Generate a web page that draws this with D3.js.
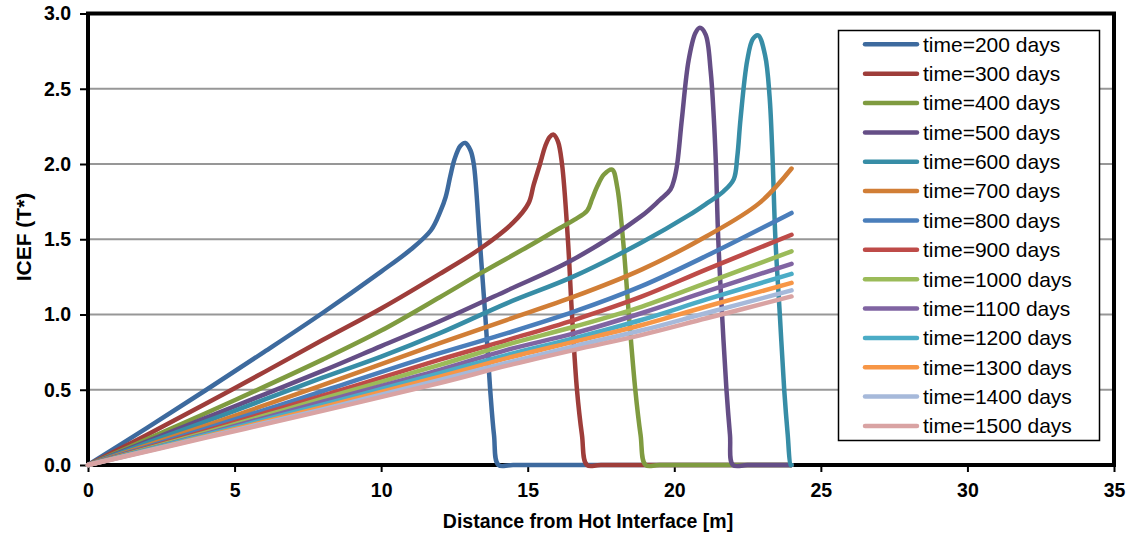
<!DOCTYPE html>
<html>
<head>
<meta charset="utf-8">
<script src="https://cdn.jsdelivr.net/npm/d3@7"></script>
<style>
  html, body { margin: 0; padding: 0; background: #fff; }
  svg { display: block; font-family: "Liberation Sans", Arial, sans-serif; }
</style>
</head>
<body>
<svg id="chart" width="1129" height="539"></svg>
<script>
// ICEF profiles, [distance (m), ICEF (T*)] pairs for each elapsed time
const t200 = [[0,0],[2,0.245],[4,0.495],[6,0.75],[8,1.01],[10,1.285],[11,1.43],[11.7,1.56],[12.02,1.685],[12.2,1.78],[12.36,1.92],[12.5,2.03],[12.7,2.12],[12.87,2.14],[13.05,2.09],[13.16,2.0],[13.36,1.5],[13.55,1.0],[13.72,0.5],[13.85,0.2],[14.0,0],[14.5,0],[24,0]];
const t300 = [[0,0],[2,0.2],[5,0.51],[8,0.83],[10,1.04],[12,1.27],[13.4,1.44],[14.5,1.61],[15.03,1.74],[15.2,1.86],[15.42,2.0],[15.6,2.12],[15.75,2.18],[15.88,2.195],[16.03,2.15],[16.17,2.0],[16.37,1.5],[16.51,1.0],[16.68,0.5],[16.85,0.2],[17.02,0],[17.5,0],[24,0]];
const t400 = [[0,0],[2,0.17],[5,0.43],[8,0.7],[10,0.893],[12,1.115],[13.4,1.275],[15,1.45],[16.1,1.575],[16.6,1.63],[17.03,1.69],[17.2,1.77],[17.37,1.85],[17.6,1.93],[17.88,1.963],[18.05,1.85],[18.25,1.5],[18.45,1.0],[18.67,0.5],[18.85,0.2],[19.02,0],[19.5,0],[24,0]];
const t500 = [[0,0],[2,0.155],[5,0.39],[8,0.625],[10,0.79],[12,0.955],[14.3,1.16],[16.5,1.36],[18.85,1.65],[19.5,1.76],[19.87,1.83],[20.0,1.9],[20.1,2.0],[20.26,2.3],[20.49,2.69],[20.72,2.87],[20.87,2.905],[21.07,2.86],[21.24,2.62],[21.35,2.3],[21.42,2.0],[21.5,1.5],[21.63,1.0],[21.78,0.5],[21.9,0.2],[22.0,0],[22.5,0],[24,0]];
const t600 = [[0,0],[2,0.145],[5,0.36],[8,0.58],[10,0.72],[12,0.876],[14.3,1.076],[16.57,1.253],[18.85,1.475],[20.5,1.66],[21.12,1.74],[21.69,1.82],[22.03,1.9],[22.15,2.05],[22.26,2.3],[22.49,2.69],[22.68,2.83],[22.86,2.855],[23.1,2.72],[23.25,2.45],[23.35,2.05],[23.45,1.5],[23.6,1.0],[23.75,0.5],[23.87,0.2],[23.97,0],[24,0]];
const t700 = [[0,0],[4,0.26],[8,0.53],[12,0.81],[14.3,0.965],[16.6,1.12],[18.9,1.3],[21.1,1.52],[22.9,1.74],[24,1.97]];
const t800 = [[0,0],[4,0.24],[8,0.49],[12,0.743],[14.3,0.876],[16.6,1.02],[18.9,1.19],[21.1,1.39],[24,1.675]];
const t900 = [[0,0],[4,0.225],[8,0.46],[12,0.7],[14.3,0.83],[16.6,0.965],[18.9,1.12],[21.1,1.3],[24,1.53]];
const t1000 = [[0,0],[4,0.215],[8,0.44],[12,0.665],[14.3,0.8],[16.6,0.92],[18.9,1.053],[21.1,1.21],[24,1.42]];
const t1100 = [[0,0],[4,0.205],[8,0.42],[12,0.632],[14.3,0.765],[16.6,0.876],[18.9,1.01],[21.1,1.153],[24,1.337]];
const t1200 = [[0,0],[4,0.2],[8,0.4],[12,0.61],[14.3,0.732],[16.6,0.843],[18.9,0.965],[21.1,1.1],[24,1.27]];
const t1300 = [[0,0],[4,0.19],[8,0.385],[12,0.587],[14.3,0.71],[16.6,0.82],[18.9,0.93],[21.1,1.053],[24,1.21]];
const t1400 = [[0,0],[4,0.185],[8,0.37],[12,0.565],[14.3,0.68],[16.6,0.79],[18.9,0.895],[21.1,1.01],[24,1.16]];
const t1500 = [[0,0],[4,0.18],[8,0.36],[12,0.545],[14.3,0.66],[16.6,0.765],[18.9,0.865],[21.1,0.975],[24,1.12]];

const seriesNames = ["time=200 days","time=300 days","time=400 days","time=500 days","time=600 days","time=700 days","time=800 days","time=900 days","time=1000 days","time=1100 days","time=1200 days","time=1300 days","time=1400 days","time=1500 days"];
const seriesData = [t200,t300,t400,t500,t600,t700,t800,t900,t1000,t1100,t1200,t1300,t1400,t1500];
const seriesColors = ["#3D6A9E","#9E3D3A","#7F9B40","#654E86","#378DA6","#D17E36","#4A7EBB","#BE4B48","#9BBB59","#8064A2","#4BACC6","#F79646","#A6B9DA","#D9A3A3"];

const xTicks = [0,5,10,15,20,25,30,35];
const yTicks = [0,0.5,1.0,1.5,2.0,2.5,3.0];
const xTitle = "Distance from Hot Interface [m]";
const yTitle = "ICEF (T*)";

const svg = d3.select("#chart");
const plotLeft = 88, plotRight = 1114, plotTop = 13.5, plotBottom = 465;

const x = d3.scaleLinear().domain([0, 35]).range([plotLeft, plotRight]);
const y = d3.scaleLinear().domain([0, 3]).range([plotBottom, plotTop]);

// horizontal gridlines
svg.append("g").selectAll("line").data(yTicks.filter(v => v > 0 && v < 3)).join("line")
  .attr("x1", plotLeft).attr("x2", plotRight)
  .attr("y1", d => y(d)).attr("y2", d => y(d))
  .attr("stroke", "#979797").attr("stroke-width", 1.8);

// axes
const yAxis = svg.append("g").attr("transform", `translate(${plotLeft},0)`)
  .call(d3.axisLeft(y).tickValues(yTicks).tickFormat(d3.format(".1f")).tickSize(8).tickPadding(9));
const xAxis = svg.append("g").attr("transform", `translate(0,${plotBottom})`)
  .call(d3.axisBottom(x).tickValues(xTicks).tickFormat(d3.format("d")).tickSize(7).tickPadding(11));
[yAxis, xAxis].forEach(g => {
  g.select(".domain").remove();
  g.selectAll(".tick line").attr("stroke", "#000").attr("stroke-width", 2);
  g.selectAll(".tick text").attr("fill", "#000").attr("font-size", 19.5)
    .attr("font-weight", "bold").attr("font-family", "'Liberation Sans', Arial, sans-serif");
});

// plot-area frame
svg.append("rect")
  .attr("x", plotLeft).attr("y", plotTop)
  .attr("width", plotRight - plotLeft).attr("height", plotBottom - plotTop)
  .attr("fill", "none").attr("stroke", "#000").attr("stroke-width", 4);

// series lines, smoothed
const line = d3.line().x(d => x(d[0])).y(d => y(d[1])).curve(d3.curveCatmullRom.alpha(0.5));
svg.append("g").selectAll("path").data(seriesData).join("path")
  .attr("d", line)
  .attr("fill", "none")
  .attr("stroke", (d, i) => seriesColors[i])
  .attr("stroke-width", 4.5)
  .attr("stroke-linejoin", "round")
  .attr("stroke-linecap", "round");

// axis titles
svg.append("text")
  .attr("x", 588).attr("y", 528)
  .attr("text-anchor", "middle")
  .attr("font-size", 19.5).attr("font-weight", "bold")
  .text(xTitle);
svg.append("text")
  .attr("transform", "translate(31,237) rotate(-90)")
  .attr("text-anchor", "middle")
  .attr("font-size", 21).attr("font-weight", "bold")
  .text(yTitle);

// legend
const legend = svg.append("g");
legend.append("rect")
  .attr("x", 838.5).attr("y", 30.5).attr("width", 261).attr("height", 410)
  .attr("fill", "#fff").attr("stroke", "#000").attr("stroke-width", 1.5);
const rowY = i => 44.3 + i * 29.36;
const items = legend.selectAll("g.item").data(seriesNames).join("g").attr("class", "item");
items.append("line")
  .attr("x1", 865).attr("x2", 917)
  .attr("y1", (d, i) => rowY(i)).attr("y2", (d, i) => rowY(i))
  .attr("stroke", (d, i) => seriesColors[i])
  .attr("stroke-width", 4.5).attr("stroke-linecap", "round");
items.append("text")
  .attr("x", 923).attr("y", (d, i) => rowY(i)).attr("dy", "0.35em")
  .attr("font-size", 21).attr("fill", "#000")
  .text(d => d);
</script>
</body>
</html>
